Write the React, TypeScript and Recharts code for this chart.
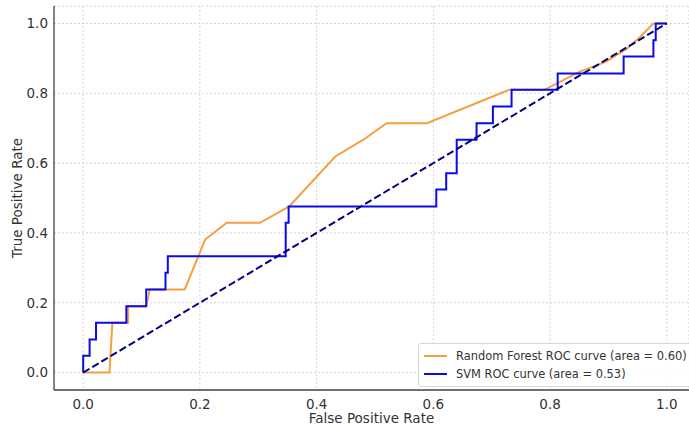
import React from 'react';
import { LineChart, Line, XAxis, YAxis, CartesianGrid, Legend, Label } from 'recharts';

const rfFpr = [0, 0.045, 0.05, 0.077, 0.077, 0.108, 0.114, 0.174, 0.209, 0.246, 0.303, 0.353, 0.432, 0.48, 0.52, 0.589, 0.73, 0.79, 0.851, 0.894, 0.931, 0.951, 0.977, 1.0];
const rfTpr = [0, 0, 0.143, 0.143, 0.19, 0.19, 0.238, 0.238, 0.381, 0.429, 0.429, 0.476, 0.619, 0.667, 0.714, 0.714, 0.81, 0.81, 0.862, 0.889, 0.927, 0.956, 1.0, 1.0];

const svmFpr = [0, 0, 0.011, 0.011, 0.022, 0.022, 0.074, 0.074, 0.108, 0.108, 0.141, 0.141, 0.145, 0.145, 0.347, 0.347, 0.352, 0.352, 0.605, 0.605, 0.622, 0.622, 0.64, 0.64, 0.674, 0.674, 0.702, 0.702, 0.734, 0.734, 0.813, 0.813, 0.926, 0.926, 0.977, 0.977, 0.981, 0.981, 1.0];
const svmTpr = [0, 0.048, 0.048, 0.095, 0.095, 0.143, 0.143, 0.19, 0.19, 0.238, 0.238, 0.286, 0.286, 0.333, 0.333, 0.429, 0.429, 0.476, 0.476, 0.524, 0.524, 0.571, 0.571, 0.667, 0.667, 0.714, 0.714, 0.762, 0.762, 0.81, 0.81, 0.857, 0.857, 0.905, 0.905, 0.952, 0.952, 1.0, 1.0];

const chanceFpr = [0, 1];
const chanceTpr = [0, 1];

const axisTicks = [0, 0.2, 0.4, 0.6, 0.8, 1.0];

const rfLabel = 'Random Forest ROC curve (area = 0.60)';
const svmLabel = 'SVM ROC curve (area = 0.53)';

const rfData = rfFpr.map((x, i) => ({ x, y: rfTpr[i] }));
const svmData = svmFpr.map((x, i) => ({ x, y: svmTpr[i] }));
const chanceData = chanceFpr.map((x, i) => ({ x, y: chanceTpr[i] }));

const FONT = '"DejaVu Sans", sans-serif';
const TEXT = '#333333';

const renderLegend = (props: any) => {
  const payload = (props.payload || []).filter((p: any) => p.type !== 'none');
  return (
    <div
      style={{
        border: '1px solid #d6d6d6',
        borderRadius: 3,
        background: 'rgba(255,255,255,0.85)',
        padding: '3px 5px 3px 5px',
        fontFamily: FONT,
        fontSize: 11.45,
        color: TEXT,
        boxSizing: 'border-box',
        width: 276,
      }}
    >
      {payload.map((p: any) => (
        <div key={p.value} style={{ display: 'flex', alignItems: 'center', height: 18, whiteSpace: 'nowrap' }}>
          <span style={{ display: 'inline-block', width: 23, height: 2, background: p.color, marginRight: 9 }} />
          <span>{p.value}</span>
        </div>
      ))}
    </div>
  );
};

export default function App() {
  return (
    <div style={{ position: 'absolute', left: 0, top: 0, width: 689, height: 426, background: '#fff', overflow: 'hidden' }}>
      <LineChart width={689} height={426} margin={{ top: 6, right: 0, bottom: 0, left: 0 }} style={{ overflow: 'hidden' }}>
        <CartesianGrid stroke="#d4d4d4" strokeDasharray="2 2" />
        <XAxis
          type="number"
          dataKey="x"
          domain={[-0.05, 1.038]}
          allowDataOverflow
          ticks={axisTicks}
          tickFormatter={(v: number) => v.toFixed(1)}
          height={36}
          tickSize={0}
          tickMargin={9}
          stroke="#444"
          strokeWidth={1.3}
          tick={{ fill: TEXT, fontSize: 13.5, fontFamily: FONT }}
        >
          <Label value="False Positive Rate" position="insideBottom" offset={3} style={{ fill: TEXT, fontSize: 13.5, fontFamily: FONT }} />
        </XAxis>
        <YAxis
          type="number"
          dataKey="y"
          domain={[-0.05, 1.05]}
          allowDataOverflow
          ticks={axisTicks}
          tickFormatter={(v: number) => v.toFixed(1)}
          width={54}
          tickSize={0}
          tickMargin={6}
          stroke="#444"
          strokeWidth={1.3}
          tick={{ fill: TEXT, fontSize: 13.5, fontFamily: FONT }}
        >
          <Label value="True Positive Rate" angle={-90} position="insideLeft" offset={17} style={{ fill: TEXT, fontSize: 13.5, fontFamily: FONT, textAnchor: 'middle' }} />
        </YAxis>
        <Legend
          layout="vertical"
          align="center"
          verticalAlign="middle"
          content={renderLegend}
          wrapperStyle={{ position: 'absolute', left: 418, top: 343, width: 276 }}
        />
        <Line data={rfData} dataKey="y" name={rfLabel} type="linear" stroke="#f4a041" strokeWidth={2} dot={false} isAnimationActive={false} />
        <Line data={svmData} dataKey="y" name={svmLabel} type="linear" stroke="#0a0aee" strokeWidth={2} dot={false} isAnimationActive={false} />
        <Line data={chanceData} dataKey="y" name="chance" legendType="none" type="linear" stroke="#000080" strokeWidth={2} strokeDasharray="7.4 3.2" dot={false} isAnimationActive={false} />
      </LineChart>
    </div>
  );
}
